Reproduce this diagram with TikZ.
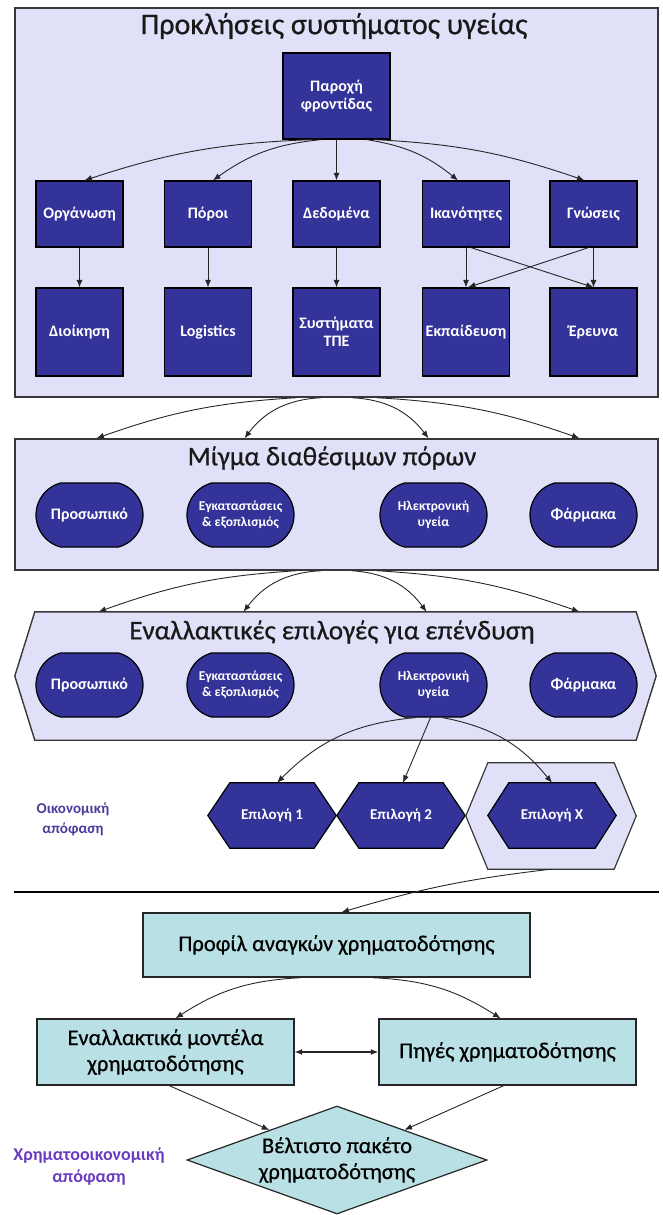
\documentclass[tikz,border=0pt]{standalone}
\usepackage{fontspec}
\setmainfont{Carlito}
\newfontfamily\heavyfont[FakeBold=0.6]{Carlito}
\usetikzlibrary{arrows.meta,shapes.misc,shapes.geometric,backgrounds,calc}

\definecolor{navy}{HTML}{333399}
\definecolor{lavfill}{HTML}{E0E0F8}
\definecolor{aquafill}{HTML}{B9E0E4}
\definecolor{framecol}{HTML}{383838}
\definecolor{notecol}{HTML}{4B3C9C}
\definecolor{notecolb}{HTML}{6A3CC0}

% hexagon outline around a (borderless) rectangular node
\newcommand\hexoutline[3][]{%
  \draw[#1] (#2.west) -- ([xshift=#3]#2.north west) -- ([xshift=-#3]#2.north east)
    -- (#2.east) -- ([xshift=-#3]#2.south east) -- ([xshift=#3]#2.south west) -- cycle;}

\begin{document}
\begin{tikzpicture}[x=1pt,y=1pt,
  region/.style={draw=framecol, line width=1.4pt, fill=lavfill, inner sep=0pt},
  ttl/.style={font=\heavyfont\fontsize{27}{30}\selectfont, text=black!90, inner sep=0pt},
  sq/.style={draw=black, line width=1.2pt, fill=navy, text=white,
    font=\bfseries\fontsize{16}{18}\selectfont, minimum width=87pt,
    minimum height=66pt, inner sep=0pt, align=center},
  tall/.style={sq, minimum height=88pt},
  pill/.style={rounded rectangle, rounded rectangle arc length=150,
    draw=black, line width=1.2pt, fill=navy, text=white,
    font=\bfseries\fontsize{16}{18}\selectfont, minimum width=107pt,
    minimum height=64pt, inner sep=0pt, align=center},
  small/.style={font=\bfseries\fontsize{13.5}{16}\selectfont},
  optlabel/.style={text=white, font=\bfseries\fontsize{15}{17}\selectfont,
    minimum width=128pt, minimum height=65pt, inner sep=0pt},
  hexdark/.style={draw=black, line width=1.2pt, fill=navy},
  hexlight/.style={draw=framecol, line width=1.2pt, fill=lavfill},
  aqua/.style={draw=black!85, line width=1.4pt, fill=aquafill, text=black,
    font=\heavyfont\fontsize{22.5}{26}\selectfont, inner sep=0pt, align=center},
  note/.style={font=\bfseries\fontsize{15}{20}\selectfont, align=center, text=notecol},
  arr/.style={-{Latex[length=7.5pt,width=6pt]}, line width=0.9pt, draw=black!85},
  dbl/.style={{Latex[length=7.5pt,width=6pt]}-{Latex[length=7.5pt,width=6pt]},
    line width=1.1pt, draw=black!85}
]
\useasboundingbox (0,0) rectangle (662,-1215);

% ---- health system challenges ----
\node[region, minimum width=643pt, minimum height=389pt] (reg1) at (336.5,-202.5) {};
\node[ttl, font=\heavyfont\fontsize{30}{32}\selectfont] (t1) at (334,-26) {Προκλήσεις συστήματος υγείας};
\node[sq, minimum width=107pt, minimum height=86pt] (care) at (336.5,-96) {Παροχή\\φροντίδας};

\node[sq] (org)   at (79.5,-214)  {Οργάνωση};
\node[sq] (res)   at (208,-214)   {Πόροι};
\node[sq] (data)  at (336.5,-214) {Δεδομένα};
\node[sq] (skill) at (466,-214)   {Ικανότητες};
\node[sq] (know)  at (593.5,-214) {Γνώσεις};

\node[tall] (admin) at (79.5,-332)  {Διοίκηση};
\node[tall] (logi)  at (208,-332)   {Logistics};
\node[tall] (ict)   at (336.5,-332) {Συστήματα\\ΤΠΕ};
\node[tall] (edu)   at (466,-332)   {Εκπαίδευση};
\node[tall] (rsch)  at (593.5,-332) {Έρευνα};

% ---- available resource mix ----
\node[region, minimum width=643pt, minimum height=131pt] (reg2) at (336.5,-504.5) {};
\node[ttl] (t2) at (332,-458) {Μίγμα διαθέσιμων πόρων};
\node[pill] (p2a) at (89.5,-515)  {Προσωπικό};
\node[pill, small] (p2b) at (240.5,-515) {Εγκαταστάσεις\\\& εξοπλισμός};
\node[pill, small] (p2c) at (433.5,-515) {Ηλεκτρονική\\υγεία};
\node[pill] (p2d) at (583.5,-515) {Φάρμακα};

% ---- investment alternatives ----
\node[inner sep=0pt, minimum width=641pt, minimum height=128pt] (reg3) at (335.5,-676) {};
\node[ttl] (t3) at (332,-632) {Εναλλακτικές επιλογές για επένδυση};
\node[pill] (p3a) at (89.5,-685)  {Προσωπικό};
\node[pill, small] (p3b) at (240.5,-685) {Εγκαταστάσεις\\\& εξοπλισμός};
\node[pill, small] (p3c) at (433.5,-685) {Ηλεκτρονική\\υγεία};
\node[pill] (p3d) at (583.5,-685) {Φάρμακα};

\node[optlabel] (o1) at (272,-815.5) {Επιλογή 1};
\node[optlabel] (o2) at (401,-815.5) {Επιλογή 2};
\node[inner sep=0pt, minimum width=170pt, minimum height=106pt] (oXo) at (551,-816) {};
\node[optlabel] (oX) at (552,-815.5) {Επιλογή Χ};

\begin{scope}[on background layer]
  \hexoutline[hexlight, line width=1.4pt]{reg3}{20}
  \hexoutline[hexdark]{o1}{22}
  \hexoutline[hexdark]{o2}{22}
  \hexoutline[hexlight]{oXo}{22}
  \hexoutline[hexdark]{oX}{21}
\end{scope}

\node[note] (n1) at (73,-819) {Οικονομική\\απόφαση};

% separator between the two decision stages
\draw[line width=1.2pt] (14,-892) -- (659,-892);

% ---- financing ----
\node[aqua, minimum width=387pt, minimum height=64pt] (prof) at (336.5,-945) {Προφίλ αναγκών χρηματοδότησης};
\node[aqua, minimum width=257pt, minimum height=66pt] (lb) at (165.5,-1052) {Εναλλακτικά μοντέλα\\χρηματοδότησης};
\node[aqua, minimum width=257pt, minimum height=66pt] (rb) at (507.5,-1052) {Πηγές χρηματοδότησης};
\node[aqua, diamond, aspect=2.78, minimum width=300pt, minimum height=108pt, line width=1.2pt] (diam) at (337,-1160) {Βέλτιστο πακέτο\\χρηματοδότησης};
\node[note, text=notecolb, font=\bfseries\fontsize{18}{22}\selectfont] (n2) at (89,-1166) {Χρηματοοικονομική\\απόφαση};

% ---- connectors ----
\draw[arr] ([xshift=-24]care.south) to[bend right=8]  ([xshift=5]org.north);
\draw[arr] ([xshift=-15]care.south) to[bend right=15] ([xshift=5]res.north);
\draw[arr] (care.south) -- (data.north);
\draw[arr] ([xshift=30]care.south) to[bend left=15] ([xshift=-8]skill.north);
\draw[arr] ([xshift=38]care.south) to[bend left=8]  ([xshift=-9]know.north);

\draw[arr] (org) -- (admin);
\draw[arr] (res) -- (logi);
\draw[arr] (data) -- (ict);
\draw[arr] (skill) -- (edu);
\draw[arr] (know) -- (rsch);
\draw[arr] ([xshift=5]skill.south) -- ([xshift=0]rsch.north);
\draw[arr] ([xshift=-5]know.south) -- ([xshift=2]edu.north);

\draw[arr] ([xshift=-40]reg1.south) to[bend right=8]  ($(p2a |- reg2.north)+(7,0)$);
\draw[arr] ([xshift=-15]reg1.south) to[bend right=25] ($(p2b |- reg2.north)+(4,0)$);
\draw[arr] ([xshift=15]reg1.south)  to[bend left=25]  ($(p2c |- reg2.north)+(-5,0)$);
\draw[arr] ([xshift=40]reg1.south)  to[bend left=8]   ($(p2d |- reg2.north)+(-4,0)$);

\draw[arr] ([xshift=-40]reg2.south) to[bend right=8]  ($(p3a |- reg3.north)+(9,0)$);
\draw[arr] ([xshift=-15]reg2.south) to[bend right=25] ($(p3b |- reg3.north)+(3,0)$);
\draw[arr] ([xshift=15]reg2.south)  to[bend left=25]  ($(p3c |- reg3.north)+(-7,0)$);
\draw[arr] ([xshift=40]reg2.south)  to[bend left=8]   ($(p3d |- reg3.north)+(-4,0)$);

\draw[arr] ([xshift=-18]p3c.south) to[bend right=20] ([xshift=5]o1.north);
\draw[arr] ([xshift=-3]p3c.south) -- ([xshift=2]o2.north);
\draw[arr] ([xshift=9]p3c.south) to[bend left=20] (oX.north);

\draw[arr] (oXo.south) to[bend right=5] ([xshift=5]prof.north);
\draw[arr] ([xshift=-36]prof.south) to[bend right=15] ([xshift=10]lb.north);
\draw[arr] ([xshift=36]prof.south) to[bend left=15] ([xshift=-7]rb.north);
\draw[dbl] (lb) -- (rb);
\draw[arr] ([xshift=4]lb.south) -- (diam);
\draw[arr] ([xshift=-4]rb.south) -- (diam);
\end{tikzpicture}
\end{document}
